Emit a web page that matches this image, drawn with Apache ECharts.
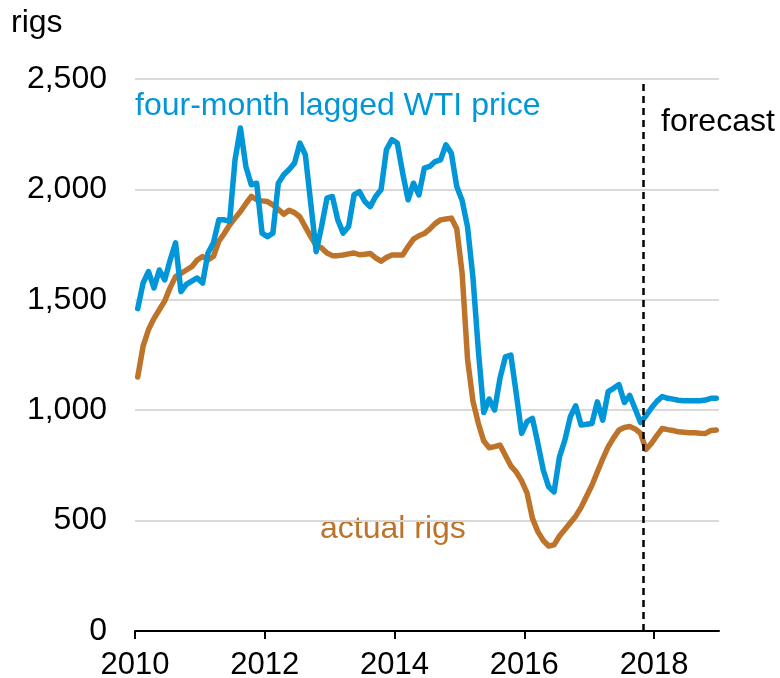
<!DOCTYPE html>
<html>
<head>
<meta charset="utf-8">
<script src="https://cdn.jsdelivr.net/npm/echarts@6/dist/echarts.min.js"></script>
<style>
  html, body { margin: 0; padding: 0; background: #fff; }
  #chart { width: 780px; height: 678px; }
</style>
</head>
<body>
<div id="chart"></div>
<script>
// monthly values, Jan 2010 .. Dec 2018
var startYear = 2010;
var wtiLagged = [
  1460, 1576, 1628, 1554, 1635, 1590, 1680, 1758, 1537, 1570, 1585, 1599,
  1576, 1712, 1758, 1862, 1862, 1855, 2134, 2278, 2104, 2021, 2028, 1802,
  1786, 1802, 2028, 2066, 2090, 2119, 2210, 2157, 1938, 1718, 1832, 1960,
  1968, 1862, 1802, 1832, 1975, 1990, 1945, 1922, 1968, 1998, 2180, 2225,
  2210, 2074, 1953, 2028, 1975, 2096, 2104, 2126, 2134, 2202, 2164, 2013,
  1950, 1830, 1600, 1270, 990, 1050, 1001, 1145, 1242, 1250, 1076, 895,
  948, 963, 850, 729, 653, 630, 789, 865, 970, 1020, 933, 936,
  940, 1038, 955, 1084, 1099, 1116, 1035, 1067, 1005, 944, 975, 1010,
  1040, 1062, 1054, 1050, 1045, 1043, 1043, 1043, 1043, 1046, 1054, 1054
];
var actualRigs = [
  1150, 1290, 1365, 1415, 1455, 1495, 1555, 1605, 1620, 1635, 1650, 1680,
  1696, 1681, 1696, 1765, 1800, 1839, 1870, 1900, 1935, 1968, 1953, 1948,
  1945, 1930, 1910, 1888, 1905, 1895, 1875, 1830, 1786, 1745, 1735, 1712,
  1700, 1700, 1703, 1708, 1712, 1704, 1706, 1710, 1690, 1675, 1692, 1703,
  1703, 1703, 1741, 1775, 1790, 1800, 1820, 1845, 1862, 1866, 1870, 1822,
  1620, 1230, 1040, 940, 860, 830, 835, 842, 795, 748, 720, 680,
  625, 510, 450, 410, 385, 390, 430, 460, 490, 520, 560, 610,
  660, 720, 780, 834, 875, 910, 922, 926, 915, 895, 822, 850,
  885, 917, 912, 908, 902, 900, 898, 898, 896, 895, 908, 910
];
var forecastStart = 2017 + 10 / 12;
var xTicks = [2010, 2012, 2014, 2016, 2018];

function toPoints(vals) {
  var pts = [];
  for (var i = 0; i < vals.length; i++) {
    pts.push([startYear + (i + 0.5) / 12, vals[i]]);
  }
  return pts;
}

var blue = '#0096d7';
var brown = '#bd732a';
var font = 'Liberation Sans, Arial, sans-serif';

var chart = echarts.init(document.getElementById('chart'), null, { renderer: 'canvas' });

var option = {
  animation: false,
  backgroundColor: '#fff',
  grid: { left: 135, right: 61, top: 79, bottom: 47, containLabel: false, outerBoundsMode: 'none' },
  xAxis: {
    type: 'value',
    min: 2010,
    max: 2019,
    interval: 2,
    axisLine: { show: true, lineStyle: { color: '#000', width: 2 } },
    axisTick: { show: true, length: 8, lineStyle: { color: '#000', width: 2 }, customValues: xTicks },
    axisLabel: {
      customValues: xTicks,
      color: '#000', fontSize: 31, fontFamily: font, margin: 19,
      formatter: function (v) { return String(v); }
    },
    splitLine: { show: false }
  },
  yAxis: {
    type: 'value',
    min: 0,
    max: 2500,
    interval: 500,
    axisLine: { show: false },
    axisTick: { show: false },
    axisLabel: {
      color: '#000', fontSize: 32, fontFamily: font, margin: 28,
      formatter: function (v) { return v.toLocaleString('en-US'); }
    },
    splitLine: { lineStyle: { color: '#d9d9d9', width: 2 } }
  },
  series: [
    {
      name: 'actual rigs',
      type: 'line',
      data: toPoints(actualRigs),
      showSymbol: false,
      lineStyle: { color: brown, width: 5.5, cap: 'round', join: 'round' },
      z: 3
    },
    {
      name: 'four-month lagged WTI price',
      type: 'line',
      data: toPoints(wtiLagged),
      showSymbol: false,
      lineStyle: { color: blue, width: 5.5, cap: 'round', join: 'round' },
      z: 4,
      markLine: {
        silent: true,
        symbol: ['none', 'none'],
        label: { show: false },
        lineStyle: { color: '#000', width: 2.5, type: [7, 5] },
        data: [{ xAxis: forecastStart }]
      }
    }
  ],
  graphic: [
    { type: 'text', left: 11, top: 7,
      style: { text: 'rigs', fill: '#000', font: '32px ' + font } },
    { type: 'text', left: 135, top: 90,
      style: { text: 'four-month lagged WTI price', fill: blue, font: '32px ' + font } },
    { type: 'text', left: 661, top: 106,
      style: { text: 'forecast', fill: '#000', font: '32px ' + font } },
    { type: 'text', left: 320, top: 513,
      style: { text: 'actual rigs', fill: brown, font: '32px ' + font } }
  ]
};

chart.setOption(option);
</script>
</body>
</html>
